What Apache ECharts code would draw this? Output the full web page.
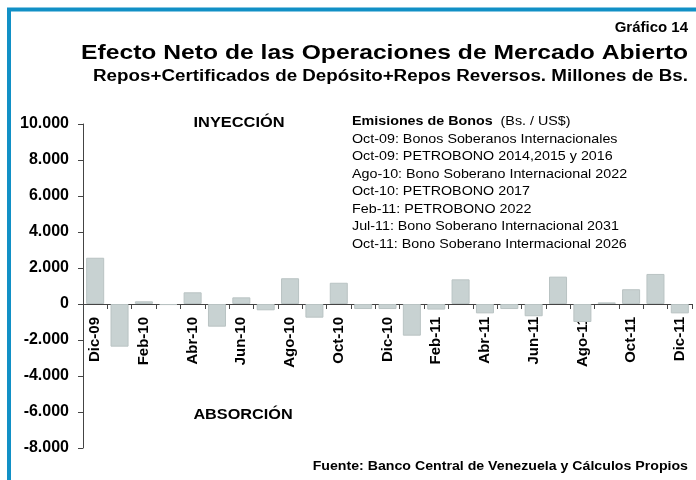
<!DOCTYPE html>
<html>
<head>
<meta charset="utf-8">
<script src="https://cdn.jsdelivr.net/npm/echarts@6/dist/echarts.min.js"></script>
<style>
  html, body { margin: 0; padding: 0; background: #fff; }
  #chart { width: 696px; height: 480px; }
</style>
</head>
<body>
<div id="chart"></div>
<script>
// meses (Dic-09 .. Dic-11)
const meses = ['Dic-09', 'Ene-10', 'Feb-10', 'Mar-10', 'Abr-10', 'May-10', 'Jun-10', 'Jul-10',
  'Ago-10', 'Sep-10', 'Oct-10', 'Nov-10', 'Dic-10', 'Ene-11', 'Feb-11', 'Mar-11', 'Abr-11',
  'May-11', 'Jun-11', 'Jul-11', 'Ago-11', 'Sep-11', 'Oct-11', 'Nov-11', 'Dic-11']

// efecto neto, millones de Bs.
const efectoNeto = [2570, -2370, 150, -60, 650, -1260, 370, -350, 1430, -760, 1180, -280,
  -280, -1760, -310, 1370, -520, -280, -680, 1520, -1000, 90, 820, 1670, -520]

const emisiones = [
  'Oct-09: Bonos Soberanos Internacionales',
  'Oct-09: PETROBONO 2014,2015 y 2016',
  'Ago-10: Bono Soberano Internacional 2022',
  'Oct-10: PETROBONO 2017',
  'Feb-11: PETROBONO 2022',
  'Jul-11: Bono Soberano Internacional 2031',
  'Oct-11: Bono Soberano Intermacional 2026',
]

const yMin = -8000
const yMax = 10000
const gridTop = 124
const gridBottom = 32

const FONT = '"Liberation Sans", Arial, sans-serif'
const chart = echarts.init(document.getElementById('chart'))

// textos sueltos (sx = estiramiento horizontal)
const textos = [
  { x: 688, y: 28, text: 'Gráfico 14', size: 15, sx: 1, align: 'right' },
  { x: 688, y: 53, text: 'Efecto Neto de las Operaciones de Mercado Abierto', size: 21, sx: 1.174, align: 'right' },
  { x: 688, y: 77, text: 'Repos+Certificados de Depósito+Repos Reversos. Millones de Bs.', size: 16, sx: 1.174, align: 'right' },
  { x: 239, y: 123, text: 'INYECCIÓN', size: 14, sx: 1.17, align: 'center' },
  { x: 243, y: 415, text: 'ABSORCIÓN', size: 14, sx: 1.16, align: 'center' },
  { x: 688, y: 467, text: 'Fuente: Banco Central de Venezuela y Cálculos Propios', size: 12, sx: 1.18, align: 'right' },
]

const graphic = [
  {
    type: 'rect',
    shape: { x: 9, y: 9.5, width: 720, height: 500 },
    style: { fill: 'none', stroke: '#1190c6', lineWidth: 4 },
    silent: true,
  },
]
textos.forEach((t) => {
  graphic.push({
    type: 'text',
    x: t.x,
    y: t.y,
    scaleX: t.sx,
    style: {
      text: t.text,
      font: 'bold ' + t.size + 'px ' + FONT,
      fill: '#000',
      align: t.align,
      verticalAlign: 'middle',
    },
  })
})
// bloque de emisiones
graphic.push({
  type: 'text',
  x: 352,
  y: 113,
  scaleX: 1.1,
  style: {
    text: '{b|Emisiones de Bonos}  (Bs. / US$)\n' + emisiones.join('\n'),
    font: '13px ' + FONT,
    fill: '#000',
    lineHeight: 17.5,
    verticalAlign: 'top',
    rich: {
      b: { font: 'bold 13px ' + FONT, fill: '#000' },
    },
  },
})

// el eje de categorías va sobre el cero: desplazamiento desde el borde inferior
const plotH = 480 - gridTop - gridBottom
const zeroOffset = -plotH * (0 - yMin) / (yMax - yMin)

chart.setOption({
  animation: false,
  backgroundColor: '#fff',
  grid: { left: 83, right: 4, top: gridTop, bottom: gridBottom, containLabel: false, outerBoundsMode: 'none' },
  xAxis: {
    type: 'category',
    data: meses,
    offset: zeroOffset,
    axisLine: { onZero: false, lineStyle: { color: '#444', width: 1 } },
    axisTick: { show: true, interval: 0, length: 5, lineStyle: { color: '#444' } },
    axisLabel: {
      interval: 1,
      rotate: 90,
      margin: 13,
      color: '#000',
      fontFamily: FONT,
      fontWeight: 'bold',
      fontSize: 15,
    },
  },
  yAxis: {
    type: 'value',
    min: yMin,
    max: yMax,
    interval: 2000,
    splitLine: { show: false },
    axisLine: { show: true, lineStyle: { color: '#444', width: 1 } },
    axisTick: { show: true, length: 5, lineStyle: { color: '#444' } },
    axisLabel: {
      margin: 14,
      color: '#000',
      fontFamily: FONT,
      fontWeight: 'bold',
      fontSize: 16,
      formatter: (v) => {
        const s = Math.abs(v).toString().replace(/\B(?=(\d{3})+(?!\d))/g, '.')
        return (v < 0 ? '-' : '') + s
      },
    },
  },
  series: [
    {
      type: 'bar',
      data: efectoNeto,
      barCategoryGap: '26%',
      itemStyle: { color: '#c8d2d2', borderColor: '#b9c3c3', borderWidth: 1 },
    },
  ],
  graphic: graphic,
})
</script>
</body>
</html>
